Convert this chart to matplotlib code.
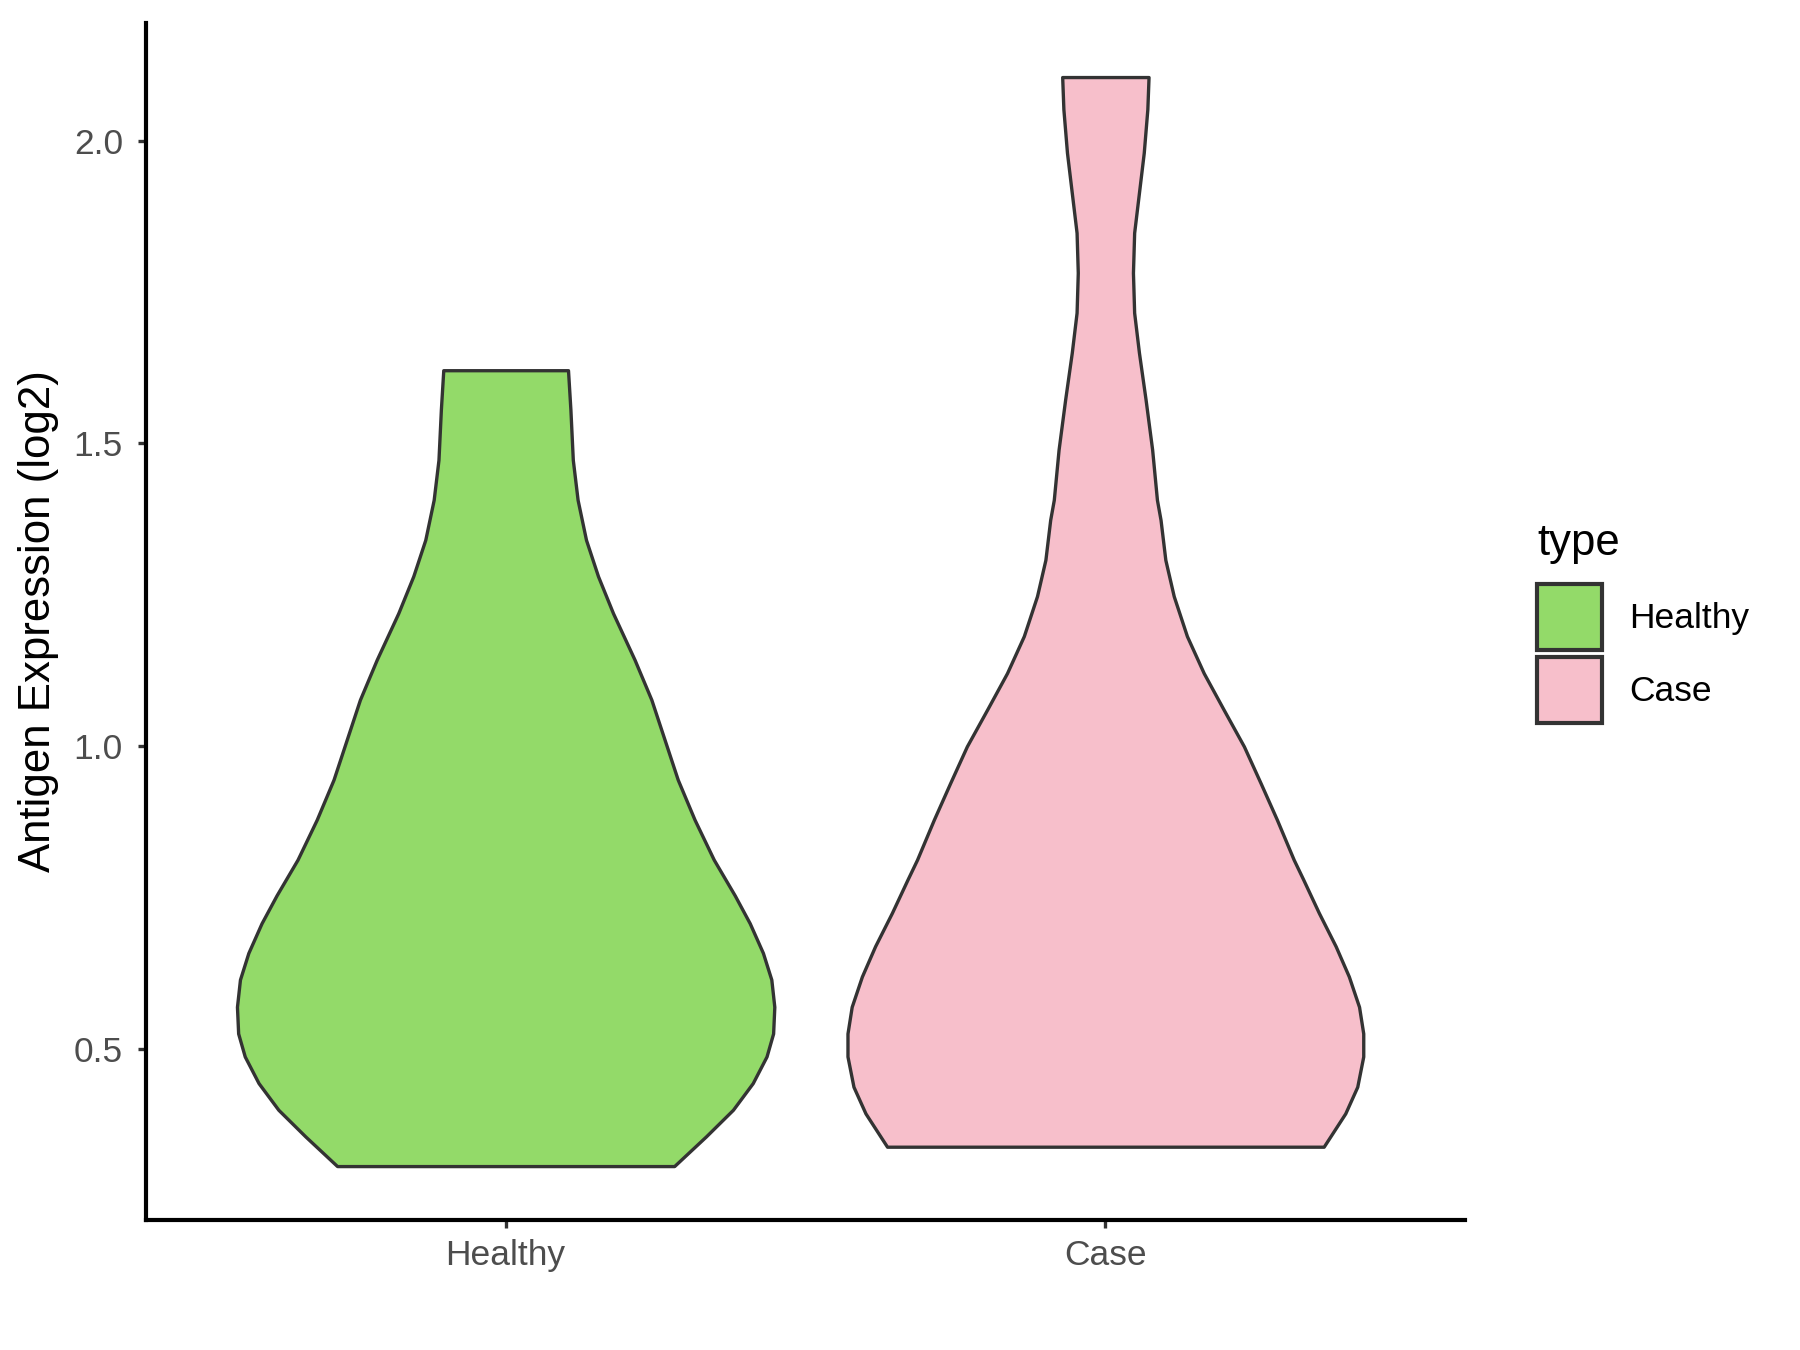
import numpy as np
import matplotlib.pyplot as plt
from matplotlib.patches import Patch

plt.rcParams['font.family'] = ['Liberation Sans', 'DejaVu Sans']

groups = ['Healthy', 'Case']
colors = ['#93DA69', '#F7BFCB']

# violin outlines: expression value and half width
healthy_y = [0.307, 0.356, 0.400, 0.444, 0.488, 0.526, 0.570, 0.615, 0.659, 0.708, 0.754,
             0.813, 0.879, 0.945, 1.011, 1.077, 1.143, 1.220, 1.281, 1.341, 1.407, 1.473,
             1.556, 1.621]
healthy_w = [0.281, 0.334, 0.379, 0.412, 0.435, 0.446, 0.448, 0.443, 0.429, 0.407, 0.382,
             0.347, 0.315, 0.287, 0.265, 0.243, 0.215, 0.179, 0.154, 0.134, 0.120, 0.112,
             0.108, 0.104]
case_y = [0.339, 0.394, 0.438, 0.488, 0.526, 0.570, 0.620, 0.670, 0.725, 0.780, 0.813,
          0.879, 0.939, 1.000, 1.061, 1.121, 1.182, 1.248, 1.308, 1.374, 1.407, 1.490,
          1.573, 1.650, 1.716, 1.782, 1.848, 1.914, 1.980, 2.052, 2.105]
case_w = [0.364, 0.400, 0.420, 0.430, 0.430, 0.423, 0.406, 0.384, 0.356, 0.330, 0.314,
          0.286, 0.259, 0.231, 0.197, 0.164, 0.136, 0.114, 0.100, 0.092, 0.086, 0.078,
          0.067, 0.056, 0.048, 0.046, 0.048, 0.056, 0.064, 0.070, 0.072]

fig = plt.figure(figsize=(6, 4.5), dpi=300)
ax = fig.add_axes([0.081, 0.0963, 0.733, 0.887])

profiles = [(healthy_y, healthy_w), (case_y, case_w)]
for i, (yy, ww) in enumerate(profiles):
    yy = np.array(yy)
    ww = np.array(ww)
    pos = i + 1
    ax.fill_betweenx(yy, pos - ww, pos + ww, facecolor=colors[i],
                     edgecolor='#333333', linewidth=0.8, zorder=2)

ax.set_xlim(0.4, 2.6)
ax.set_ylim(0.218, 2.195)
ax.set_xticks([1, 2])
ax.set_xticklabels(groups)
ax.set_yticks([0.5, 1.0, 1.5, 2.0])
ax.set_yticklabels(['0.5', '1.0', '1.5', '2.0'])

for s in ['top', 'right']:
    ax.spines[s].set_visible(False)
for s in ['left', 'bottom']:
    ax.spines[s].set_linewidth(1.0)
    ax.spines[s].set_color('black')

ax.tick_params(axis='both', length=2.0, width=0.8, color='#333333',
               labelcolor='#4D4D4D', labelsize=8.5)
ax.tick_params(axis='y', pad=3.5)
ax.tick_params(axis='x', pad=2.5)

ax.set_ylabel('Antigen Expression (log2)', fontsize=10.5, color='black')
ax.yaxis.set_label_coords(-0.066, 0.5)

handles = [Patch(facecolor=colors[i], edgecolor='#333333', linewidth=1.0, label=groups[i])
           for i in range(2)]
leg = fig.legend(handles=handles, title='type', loc='upper left',
                 bbox_to_anchor=(0.844, 0.626), frameon=False, fontsize=8.5,
                 title_fontsize=10.5, handlelength=1.85, handleheight=2.47,
                 handletextpad=0.75, labelspacing=0.2, borderpad=0, alignment='left')
# more room between the title and the keys
leg._legend_box.sep = 5.0

fig.savefig('out.png', dpi=300)
